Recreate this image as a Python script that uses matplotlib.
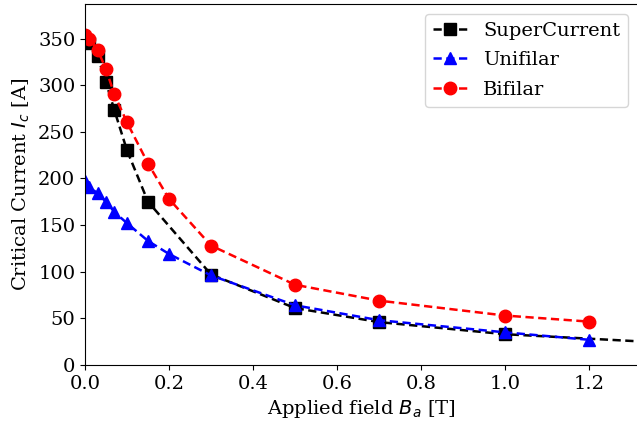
import numpy as np
import matplotlib
matplotlib.use("Agg")
import matplotlib.pyplot as plt

plt.rcParams['font.family'] = 'serif'
plt.rcParams['font.size'] = 14

# SuperCurrent (black squares)
sc_b = [0.01, 0.03, 0.05, 0.07, 0.10, 0.15, 0.30, 0.50, 0.70, 1.00, 1.50]
sc_ic = [345, 331, 303, 273, 230, 175, 97, 61, 46, 33, 21]

# Unifilar (blue triangles)
uni_b = [0.0, 0.01, 0.03, 0.05, 0.07, 0.10, 0.15, 0.20, 0.30, 0.50, 0.70, 1.00, 1.20]
uni_ic = [197, 191, 184, 175, 164, 152, 133, 119, 96, 64, 48, 35, 27]

# Bifilar (red circles)
bi_b = [0.0, 0.01, 0.03, 0.05, 0.07, 0.10, 0.15, 0.20, 0.30, 0.50, 0.70, 1.00, 1.20]
bi_ic = [354, 350, 338, 317, 290, 260, 216, 178, 128, 86, 69, 53, 46.5]

fig = plt.figure(figsize=(6.37, 4.28), dpi=100)
ax = fig.add_axes([85/637, 63/428, 553/637, 361/428])

dash = (3.3, 1.8)
ax.plot(sc_b, sc_ic, 'k--s', lw=1.8, dashes=dash, ms=8, label='SuperCurrent')
ax.plot(uni_b, uni_ic, 'b--^', lw=1.8, dashes=dash, ms=8, label='Unifilar')
ax.plot(bi_b, bi_ic, 'r--o', lw=1.8, dashes=dash, ms=9, label='Bifilar')

ax.set_xlim(0, 1.316)
ax.set_ylim(0, 387)
ax.set_xticks(np.arange(0, 1.3, 0.2))
ax.set_yticks(np.arange(0, 351, 50))
ax.set_xlabel("Applied field $B_a$ [T]")
ax.set_ylabel("Critical Current $I_c$ [A]")
ax.legend(loc='upper right', labelspacing=0.6, handlelength=1.8)

fig.savefig("out.png", dpi=100)
